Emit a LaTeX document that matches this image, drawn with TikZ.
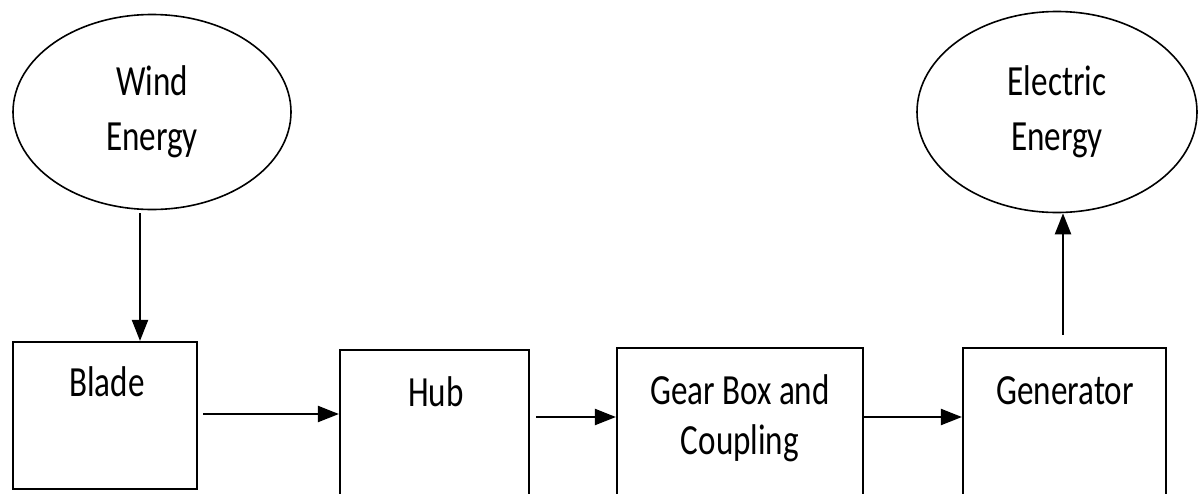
\documentclass[tikz,border=0pt]{standalone}
\usepackage{fontspec}
\newfontfamily\diagfont[FakeStretch=0.77]{Carlito}
\usetikzlibrary{shapes.geometric,arrows.meta}
\begin{document}
\begin{tikzpicture}[x=1pt,y=-1pt,
  txt/.style={font=\diagfont\fontsize{43}{55}\selectfont, inner sep=0pt, align=center},
  ell/.style={ellipse, draw, line width=1.6pt, inner sep=0pt, txt},
  blk/.style={draw, line width=2.2pt, inner sep=0pt},
  arr/.style={line width=2.2pt, -{Triangle[length=21pt,width=16pt]}}]
\useasboundingbox (0,0) rectangle (1199,493);
\clip (0,0) rectangle (1199,493);
% ellipses
\node[ell, minimum width=278pt, minimum height=195pt] (wind) at (152,112) {Wind\\Energy};
\node[ell, minimum width=280pt, minimum height=201pt] (elec) at (1057,112) {Electric\\Energy};
% boxes
\node[blk, minimum width=184pt, minimum height=147pt] (blade) at (105,415.5) {};
\node[blk, minimum width=189pt, minimum height=160pt] (hub) at (434.5,430) {};
\node[blk, minimum width=246pt, minimum height=162pt] (gear) at (740,429) {};
\node[blk, minimum width=203pt, minimum height=162pt] (gen) at (1064.5,429) {};
% box texts
\node[txt, anchor=base] (tblade) at (107,396) {Blade};
\node[txt, anchor=base] (thub) at (436,406) {Hub};
\node[txt, anchor=base] (tgear1) at (740,404) {Gear Box and};
\node[txt, anchor=base] (tgear2) at (740,454) {Coupling};
\node[txt, anchor=base] (tgen) at (1065,404) {Generator};
% arrows
\draw[arr] ([xshift=-12pt,yshift=-3pt]wind.south) -- ([xshift=-12pt]wind.south |- blade.north);
\draw[arr] ([xshift=5pt]blade.east |- 0,414) -- (hub.west |- 0,414);
\draw[arr] ([xshift=6pt]hub.east |- 0,417) -- (gear.west |- 0,417);
\draw[arr] (gear.east |- 0,417) -- (gen.west |- 0,417);
\draw[arr] ([yshift=12pt]gen.north -| 1063,0) -- (elec.south -| 1063,0);
\end{tikzpicture}
\end{document}
